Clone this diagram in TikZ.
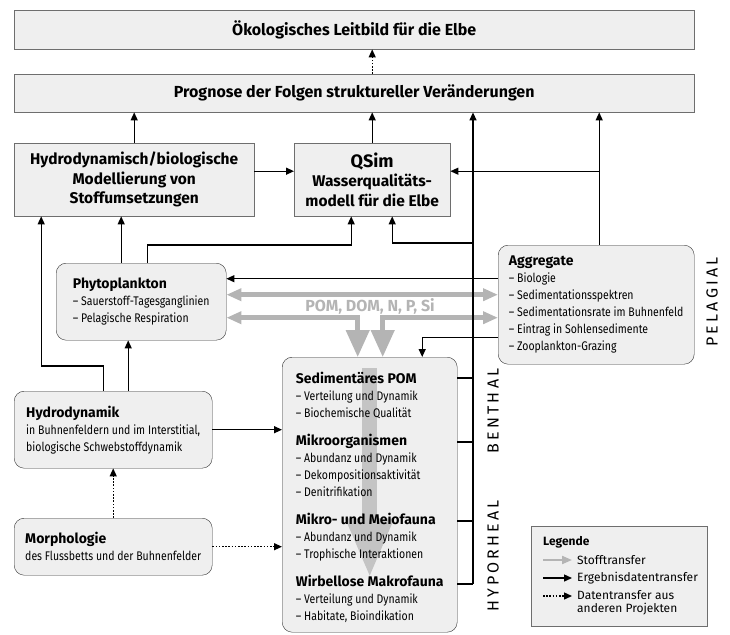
\documentclass[tikz,border=0pt]{standalone}
\usepackage{fontspec}
\setmainfont{Fira Sans}
\newfontfamily\condfont[FakeStretch=0.84]{Fira Sans}
\newfontfamily\zonefont[LetterSpace=20]{Fira Sans}
\usetikzlibrary{arrows.meta, positioning, calc}
\definecolor{boxfill}{HTML}{EFEFEF}
\definecolor{boxline}{HTML}{6E6E6E}
\definecolor{stoff}{HTML}{B4B4B4}
\definecolor{stoffpale}{HTML}{C4C4C4}
\newcommand{\kopf}[1]{{\normalfont\bfseries\fontsize{14}{17}\selectfont #1}}
\tikzset{
    model/.style={draw=boxline, fill=boxfill, anchor=north west, inner sep=0pt, align=center,
        font=\bfseries\fontsize{15.5}{19.5}\selectfont},
    bereich/.style={draw=black!80, fill=boxfill, rounded corners=10pt, anchor=north west,
        inner sep=0pt, align=left, font=\condfont\fontsize{12.5}{17}\selectfont},
    result/.style={draw, line width=1.3pt, -{Triangle[length=8pt,width=7pt]}},
    extern/.style={result, dash pattern=on 1.6pt off 1.6pt},
    stoffpfeil/.style={draw=stoff, line width=4.5pt,
        arrows={Triangle[length=15pt,width=12pt]-Triangle[length=15pt,width=12pt]}},
    stoffab/.style={arrows={Triangle[length=15pt,width=12pt]-Triangle[length=27pt,width=23pt]}},
    zone/.style={rotate=90, inner sep=0pt, font=\zonefont\fontsize{16}{16}\selectfont},
    legtext/.style={anchor=west, inner sep=0pt, align=left, font=\fontsize{12}{13}\selectfont},
}

\begin{document}
\begin{tikzpicture}[x=1pt, y=-1pt]
    \useasboundingbox (0,0) rectangle (730,634);

    \node[model, minimum width=680pt, minimum height=39pt, font=\bfseries\fontsize{16}{18}\selectfont] (leitbild) at (14,10) {Ökologisches Leitbild für die Elbe};
    \node[model, minimum width=680pt, minimum height=38pt, font=\bfseries\fontsize{16}{18}\selectfont] (prognose) at (14,74) {Prognose der Folgen struktureller Veränderungen};

    \node[model, minimum width=240pt, minimum height=73pt] (stoffmodell) at (14,143) {Hydrodynamisch/biologische\\Modellierung von\\Stoffumsetzungen};
    \node[model, minimum width=156pt, minimum height=73pt] (qsim) at (294,143) {{\fontsize{18}{19.5}\selectfont QSim}\\Wasserqualitäts-\\modell für die Elbe};

    \node[bereich, minimum width=170pt, minimum height=77pt] (phyto) at (56,263) {\kopf{Phytoplankton}\\– Sauerstoff-Tagesganglinien\\– Pelagische Respiration};
    \node[bereich, minimum width=196pt, minimum height=119pt] (aggregate) at (498,245) {\kopf{Aggregate}\\– Biologie\\– Sedimentationsspektren\\– Sedimentationsrate im Buhnenfeld\\– Eintrag in Sohlensedimente\\– Zooplankton-Grazing};
    \node[bereich, minimum width=198pt, minimum height=77pt] (hydro) at (14,391) {\kopf{Hydrodynamik}\\in Buhnenfeldern und im Interstitial,\\biologische Schwebstoffdynamik};
    \node[bereich, minimum width=198pt, minimum height=57pt] (morph) at (14,518) {\kopf{Morphologie}\\des Flussbetts und der Buhnenfelder};

    \node[bereich, minimum width=175pt, minimum height=275pt] (sediment) at (282,357) {};
    \coordinate (abstieg) at ($(sediment.north)+(0,11)$);
    \draw[stoffpale, line width=15pt, -{Triangle[length=60pt,width=44pt]}] (abstieg) -- ($(sediment.south)+(0,-54)$);
    \node[bereich, draw=none, fill=none, minimum width=175pt, minimum height=275pt, yshift=-3pt] (sedtext) at (282,357) {%
        \kopf{Sedimentäres POM}\\– Verteilung und Dynamik\\– Biochemische Qualität\\[11pt]
        \kopf{Mikroorganismen}\\– Abundanz und Dynamik\\– Dekompositionsaktivität\\– Denitrifikation\\[11pt]
        \kopf{Mikro- und Meiofauna}\\– Abundanz und Dynamik\\– Trophische Interaktionen\\[11pt]
        \kopf{Wirbellose Makrofauna}\\– Verteilung und Dynamik\\– Habitate, Bioindikation};

    \node[zone] (pelagial) at (712,302) {PELAGIAL};
    \node[zone] (benthal) at (493,411) {BENTHAL};
    \node[zone] (hyporheal) at (493,556) {HYPORHEAL};

    % Stofftransfer
    \coordinate (stoffoben) at ([yshift=7pt]phyto.east);
    \coordinate (stoffunten) at ([yshift=-16pt]phyto.east);
    \draw[stoffpfeil] (stoffoben) -- (aggregate.west |- stoffoben);
    \draw[stoffpfeil, stoffab] (stoffunten) -| ([xshift=-12pt]sediment.north);
    \draw[stoffpfeil, stoffab] (aggregate.west |- stoffunten) -| ([xshift=13pt]sediment.north);
    \node[text=stoff, font=\bfseries\fontsize{16}{16}\selectfont] (stofflabel) at (370,306) {POM, DOM, N, P, Si};

    % Ergebnisdaten
    \draw[extern] (prognose.north -| qsim.north) -- (leitbild.south -| qsim.north);
    \draw[result] (stoffmodell.north) -- (prognose.south -| stoffmodell.north);
    \draw[result] (qsim.north) -- (prognose.south -| qsim.north);
    \draw[result] ([yshift=8.5pt]stoffmodell.east) -- ([yshift=8.5pt]qsim.west);

    \coordinate (stamm) at (473,584);
    \coordinate (abzweig) at (473,243);
    \foreach \dy in {21,85,164,227}
        \draw[line width=1.3pt] ($(sediment.north east)+(0,\dy)$) -- ($(stamm |- sediment.north)+(0,\dy)$);
    \draw[result] (stamm) -- (prognose.south -| stamm);
    \draw[result] (abzweig) -| ([xshift=20pt]qsim.south);

    \coordinate (aggtop) at ([xshift=3pt]aggregate.north);
    \coordinate (qsimin) at ([yshift=8.5pt]qsim.east);
    \draw[result] (aggtop) -- (prognose.south -| aggtop);
    \draw[result] (aggtop |- qsimin) -- (qsimin);

    \coordinate (phytoin) at ([yshift=23pt]phyto.east);
    \draw[result] (aggregate.west |- phytoin) -- (phytoin);
    \coordinate (sedin) at ([yshift=-32.5pt]aggregate.west);
    \draw[result] (sedin) -| ([xshift=52.5pt]sediment.north);

    \coordinate (phyto1) at ([xshift=-20pt]phyto.north);
    \coordinate (phyto2) at ([xshift=6pt]phyto.north);
    \draw[result] (phyto1) -- (stoffmodell.south -| phyto1);
    \draw[result] (phyto2) -- ++(0,-18) -| ([xshift=-21pt]qsim.south);

    \coordinate (hydro1) at ([xshift=15pt]hydro.north);
    \coordinate (hydro2) at ([xshift=-10pt]hydro.north);
    \draw[result] (hydro1) -- (phyto.south -| hydro1);
    \draw[result] (hydro2) -- ++(0,-25) -| ([xshift=-93pt]stoffmodell.south);
    \draw[result] (hydro.east) -- (sediment.west |- hydro.east);

    \draw[extern] (morph.north) -- (hydro.south);
    \draw[extern] (morph.east) -- (sediment.west |- morph.east);

    % Legende
    \node[draw=boxline, fill=boxfill, anchor=north west, minimum width=176pt, minimum height=100pt] (legende) at (531,526) {};
    \node[legtext, font=\bfseries\fontsize{12}{13}\selectfont] (legtitel) at (543,542) {Legende};
    \node[legtext] (legstoff) at (577,560) {Stofftransfer};
    \node[legtext] (legerg) at (577,578) {Ergebnisdatentransfer};
    \node[legtext] (legext) at (577,602.5) {Datentransfer aus\\anderen Projekten};
    \draw[stoff, line width=2pt, -{Triangle[length=10pt,width=8pt]}] ($(legstoff.west)+(-34,0)$) -- ($(legstoff.west)+(-5,0)$);
    \draw[result] ($(legerg.west)+(-34,0)$) -- ($(legerg.west)+(-5,0)$);
    \draw[extern] ($(legext.west)+(-34,-6.5)$) -- ($(legext.west)+(-5,-6.5)$);
\end{tikzpicture}
\end{document}
